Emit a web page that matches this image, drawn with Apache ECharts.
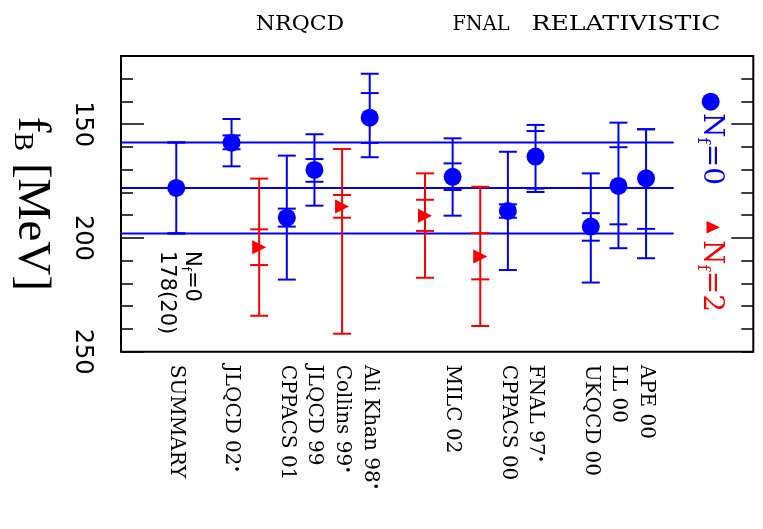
<!DOCTYPE html>
<html>
<head>
<meta charset="utf-8">
<script src="https://cdn.jsdelivr.net/npm/echarts@6/dist/echarts.min.js"></script>
<style>html,body{margin:0;padding:0;background:#fff}#c{width:763px;height:529px}</style>
</head>
<body>
<div id="c"></div>
<script>
// ---- data ----
const labelPos = [2, 4, 6, 7, 8, 9, 12, 14, 15, 17, 18, 19];
const labelNames = ['SUMMARY', 'JLQCD 02*', 'CPPACS 01', 'JLQCD 99', 'Collins 99*', 'Ali Khan 98*',
  'MILC 02', 'CPPACS 00', 'FNAL 97*', 'UKQCD 00', 'LL 00', 'APE 00'];
const groupNames = ['NRQCD', 'FNAL', 'RELATIVISTIC'];
const yTickLabels = [150, 200, 250];

const summaryX = 2;
const summaryVal = 178;
const summaryErr = 20;
const summaryLineEnd = 20;

const nf0X = [4, 6, 7, 9, 12, 14, 15, 17, 18, 19];
const nf0Val = [158.1, 191.1, 170.1, 147.1, 173.1, 188.1, 164.2, 195.0, 177.1, 173.8];
const nf0TotLo = [147.7, 163.8, 154.4, 127.8, 156.2, 162.1, 150.3, 171.6, 149.3, 152.2];
const nf0TotHi = [168.5, 218.3, 185.8, 164.5, 190.2, 214.1, 179.8, 219.6, 204.5, 208.9];
const nf0StatLo = [154.9, 187.1, 165.3, 136.3, 167.2, 185.2, 153.0, 189.1, 160.1, 152.2];
const nf0StatHi = [161.0, 195.0, 175.3, 158.2, 178.9, 191.1, 178.3, 201.2, 194.0, 196.0];

const nf2X = [5, 8, 11, 13];
const nf2Val = [204.1, 186.2, 190.2, 208.2];
const nf2TotLo = [173.9, 160.9, 171.6, 177.5];
const nf2TotHi = [234.2, 242.1, 217.5, 238.7];
const nf2StatLo = [196.2, 181.1, 183.2, 197.9];
const nf2StatHi = [211.9, 191.1, 196.9, 218.2];

// ---- chart ----
const BLUE = '#0000ff', RED = '#ff0000';
const chart = echarts.init(document.getElementById('c'));

function errRender(color) {
  return function (params, api) {
    const x = api.value(0);
    const vals = [api.value(1), api.value(2), api.value(3), api.value(4)];
    const p = vals.map(v => api.coord([x, v]));
    const hw = 9;
    const kids = [{type: 'line', shape: {x1: p[0][0], y1: p[0][1], x2: p[1][0], y2: p[1][1]},
      style: {stroke: color, lineWidth: 2}}];
    p.forEach(q => kids.push({type: 'line', shape: {x1: q[0] - hw, y1: q[1], x2: q[0] + hw, y2: q[1]},
      style: {stroke: color, lineWidth: 2}}));
    return {type: 'group', children: kids};
  };
}

const nf0Err = nf0X.map((x, i) => [x, nf0TotLo[i], nf0TotHi[i], nf0StatLo[i], nf0StatHi[i]]);
const nf2Err = nf2X.map((x, i) => [x, nf2TotLo[i], nf2TotHi[i], nf2StatLo[i], nf2StatHi[i]]);
const sumErr = [[summaryX, summaryVal - summaryErr, summaryVal + summaryErr, summaryVal - summaryErr, summaryVal + summaryErr]];
const bandVals = [summaryVal - summaryErr, summaryVal, summaryVal + summaryErr];

const serif = 'DejaVu Serif';
const sans = 'DejaVu Sans';

const yBase = {min: 120, max: 250, interval: 10, inverse: true, splitLine: {show: false}, axisLine: {show: false}};

const option = {
  animation: false,
  backgroundColor: '#fff',
  grid: {left: 118.5, right: 9.7, top: 56, bottom: 177.3, show: true, borderColor: '#000', borderWidth: 2, containLabel: false},
  xAxis: {
    type: 'value', min: 0, max: 22.88, splitLine: {show: false},
    axisLine: {show: false}, axisTick: {show: false},
    axisLabel: {
      customValues: labelPos, rotate: -90, margin: 13, color: '#000',
      fontFamily: serif, fontSize: 20,
      formatter: function (v) {
        const n = labelNames[labelPos.indexOf(v)] || '';
        if (n.endsWith('*')) return '{t|' + n.slice(0, -1) + '}{s|•}';
        return '{t|' + n + '}';
      },
      rich: {
        t: {fontFamily: serif, fontSize: 20, color: '#000'},
        s: {fontFamily: serif, fontSize: 12, color: '#000', verticalAlign: 'top'}
      }
    }
  },
  yAxis: [
    Object.assign({}, yBase, {position: 'left',
      axisTick: {inside: true, length: 12, lineStyle: {color: '#000', width: 1.5}},
      axisLabel: {show: false}}),
    Object.assign({}, yBase, {position: 'left',
      axisTick: {inside: true, length: 23, customValues: yTickLabels, lineStyle: {color: '#000', width: 1.5}},
      axisLabel: {customValues: yTickLabels, rotate: -90, margin: 27, color: '#000', fontFamily: sans, fontSize: 24},
      name: '{f|f}{b|B}{m| [MeV]}', nameLocation: 'middle', nameRotate: -90, nameGap: 66,
      nameTextStyle: {
        color: '#000',
        rich: {
          f: {fontFamily: 'Liberation Serif', fontSize: 47, color: '#000'},
          b: {fontFamily: 'Liberation Serif', fontSize: 28, color: '#000', verticalAlign: 'bottom'},
          m: {fontFamily: 'Liberation Serif', fontSize: 47, color: '#000'}
        }
      }}),
    Object.assign({}, yBase, {position: 'right',
      axisTick: {inside: true, length: 12, lineStyle: {color: '#000', width: 1.5}},
      axisLabel: {show: false}}),
    Object.assign({}, yBase, {position: 'right',
      axisTick: {inside: true, length: 22, customValues: [150, 200], lineStyle: {color: '#000', width: 1.5}},
      axisLabel: {show: false}})
  ],
  series: [].concat(
    bandVals.map(v => ({
      type: 'line', data: [[0, v], [summaryLineEnd, v]], symbol: 'none', silent: true, z: 1,
      lineStyle: {color: BLUE, width: 2}
    })),
    [
      {type: 'custom', renderItem: errRender(BLUE), data: sumErr, encode: {x: 0, y: [1, 2]}, z: 2},
      {type: 'custom', renderItem: errRender(BLUE), data: nf0Err, encode: {x: 0, y: [1, 2]}, z: 2},
      {type: 'custom', renderItem: errRender(RED), data: nf2Err, encode: {x: 0, y: [1, 2]}, z: 2},
      {type: 'scatter', data: [[summaryX, summaryVal]], symbol: 'circle', symbolSize: 18,
        itemStyle: {color: BLUE, opacity: 1}, z: 3},
      {type: 'scatter', data: nf0X.map((x, i) => [x, nf0Val[i]]), symbol: 'circle', symbolSize: 18,
        itemStyle: {color: BLUE, opacity: 1}, z: 3},
      {type: 'scatter', data: nf2X.map((x, i) => [x, nf2Val[i]]), symbol: 'triangle', symbolSize: 14,
        symbolRotate: -90, itemStyle: {color: RED, opacity: 1}, z: 3}
    ]
  ),
  graphic: [
    {type: 'text', x: 300, y: 25, scaleX: 1.05, style: {text: groupNames[0], font: '21px "DejaVu Serif"', fill: '#000', align: 'center', verticalAlign: 'middle'}},
    {type: 'text', x: 481, y: 25, scaleX: 0.92, style: {text: groupNames[1], font: '21px "DejaVu Serif"', fill: '#000', align: 'center', verticalAlign: 'middle'}},
    {type: 'text', x: 626, y: 25, scaleX: 1.2, style: {text: groupNames[2], font: '21px "DejaVu Serif"', fill: '#000', align: 'center', verticalAlign: 'middle'}},
    // summary annotation
    {type: 'text', x: 179, y: 251, rotation: -Math.PI / 2, z: 10,
      style: {text: '{n|N}{s|f}{n|=0}\n{n|178(20)}', align: 'left', verticalAlign: 'middle', fill: '#000',
        rich: {n: {fontFamily: sans, fontSize: 21, lineHeight: 25, fill: '#000'},
               s: {fontFamily: sans, fontSize: 12, lineHeight: 25, verticalAlign: 'bottom', fill: '#000'}}}},
    // legend
    {type: 'circle', shape: {cx: 710.7, cy: 101.7, r: 9}, style: {fill: BLUE}, z: 10},
    {type: 'text', x: 711, y: 113, rotation: -Math.PI / 2, z: 10,
      style: {text: '{n|N}{s|f}{n|=0}', align: 'left', verticalAlign: 'middle',
        rich: {n: {fontFamily: serif, fontSize: 28, fill: BLUE, lineHeight: 34},
               s: {fontFamily: serif, fontSize: 17, fill: BLUE, lineHeight: 34, verticalAlign: 'bottom'}}}},
    {type: 'polygon', shape: {points: [[706.5, 221], [720, 227.3], [706.5, 233.6]]}, style: {fill: RED}, z: 10},
    {type: 'text', x: 711, y: 240, rotation: -Math.PI / 2, z: 10,
      style: {text: '{n|N}{s|f}{n|=2}', align: 'left', verticalAlign: 'middle',
        rich: {n: {fontFamily: serif, fontSize: 28, fill: RED, lineHeight: 34},
               s: {fontFamily: serif, fontSize: 17, fill: RED, lineHeight: 34, verticalAlign: 'bottom'}}}}
  ]
};
chart.setOption(option);
</script>
</body>
</html>
